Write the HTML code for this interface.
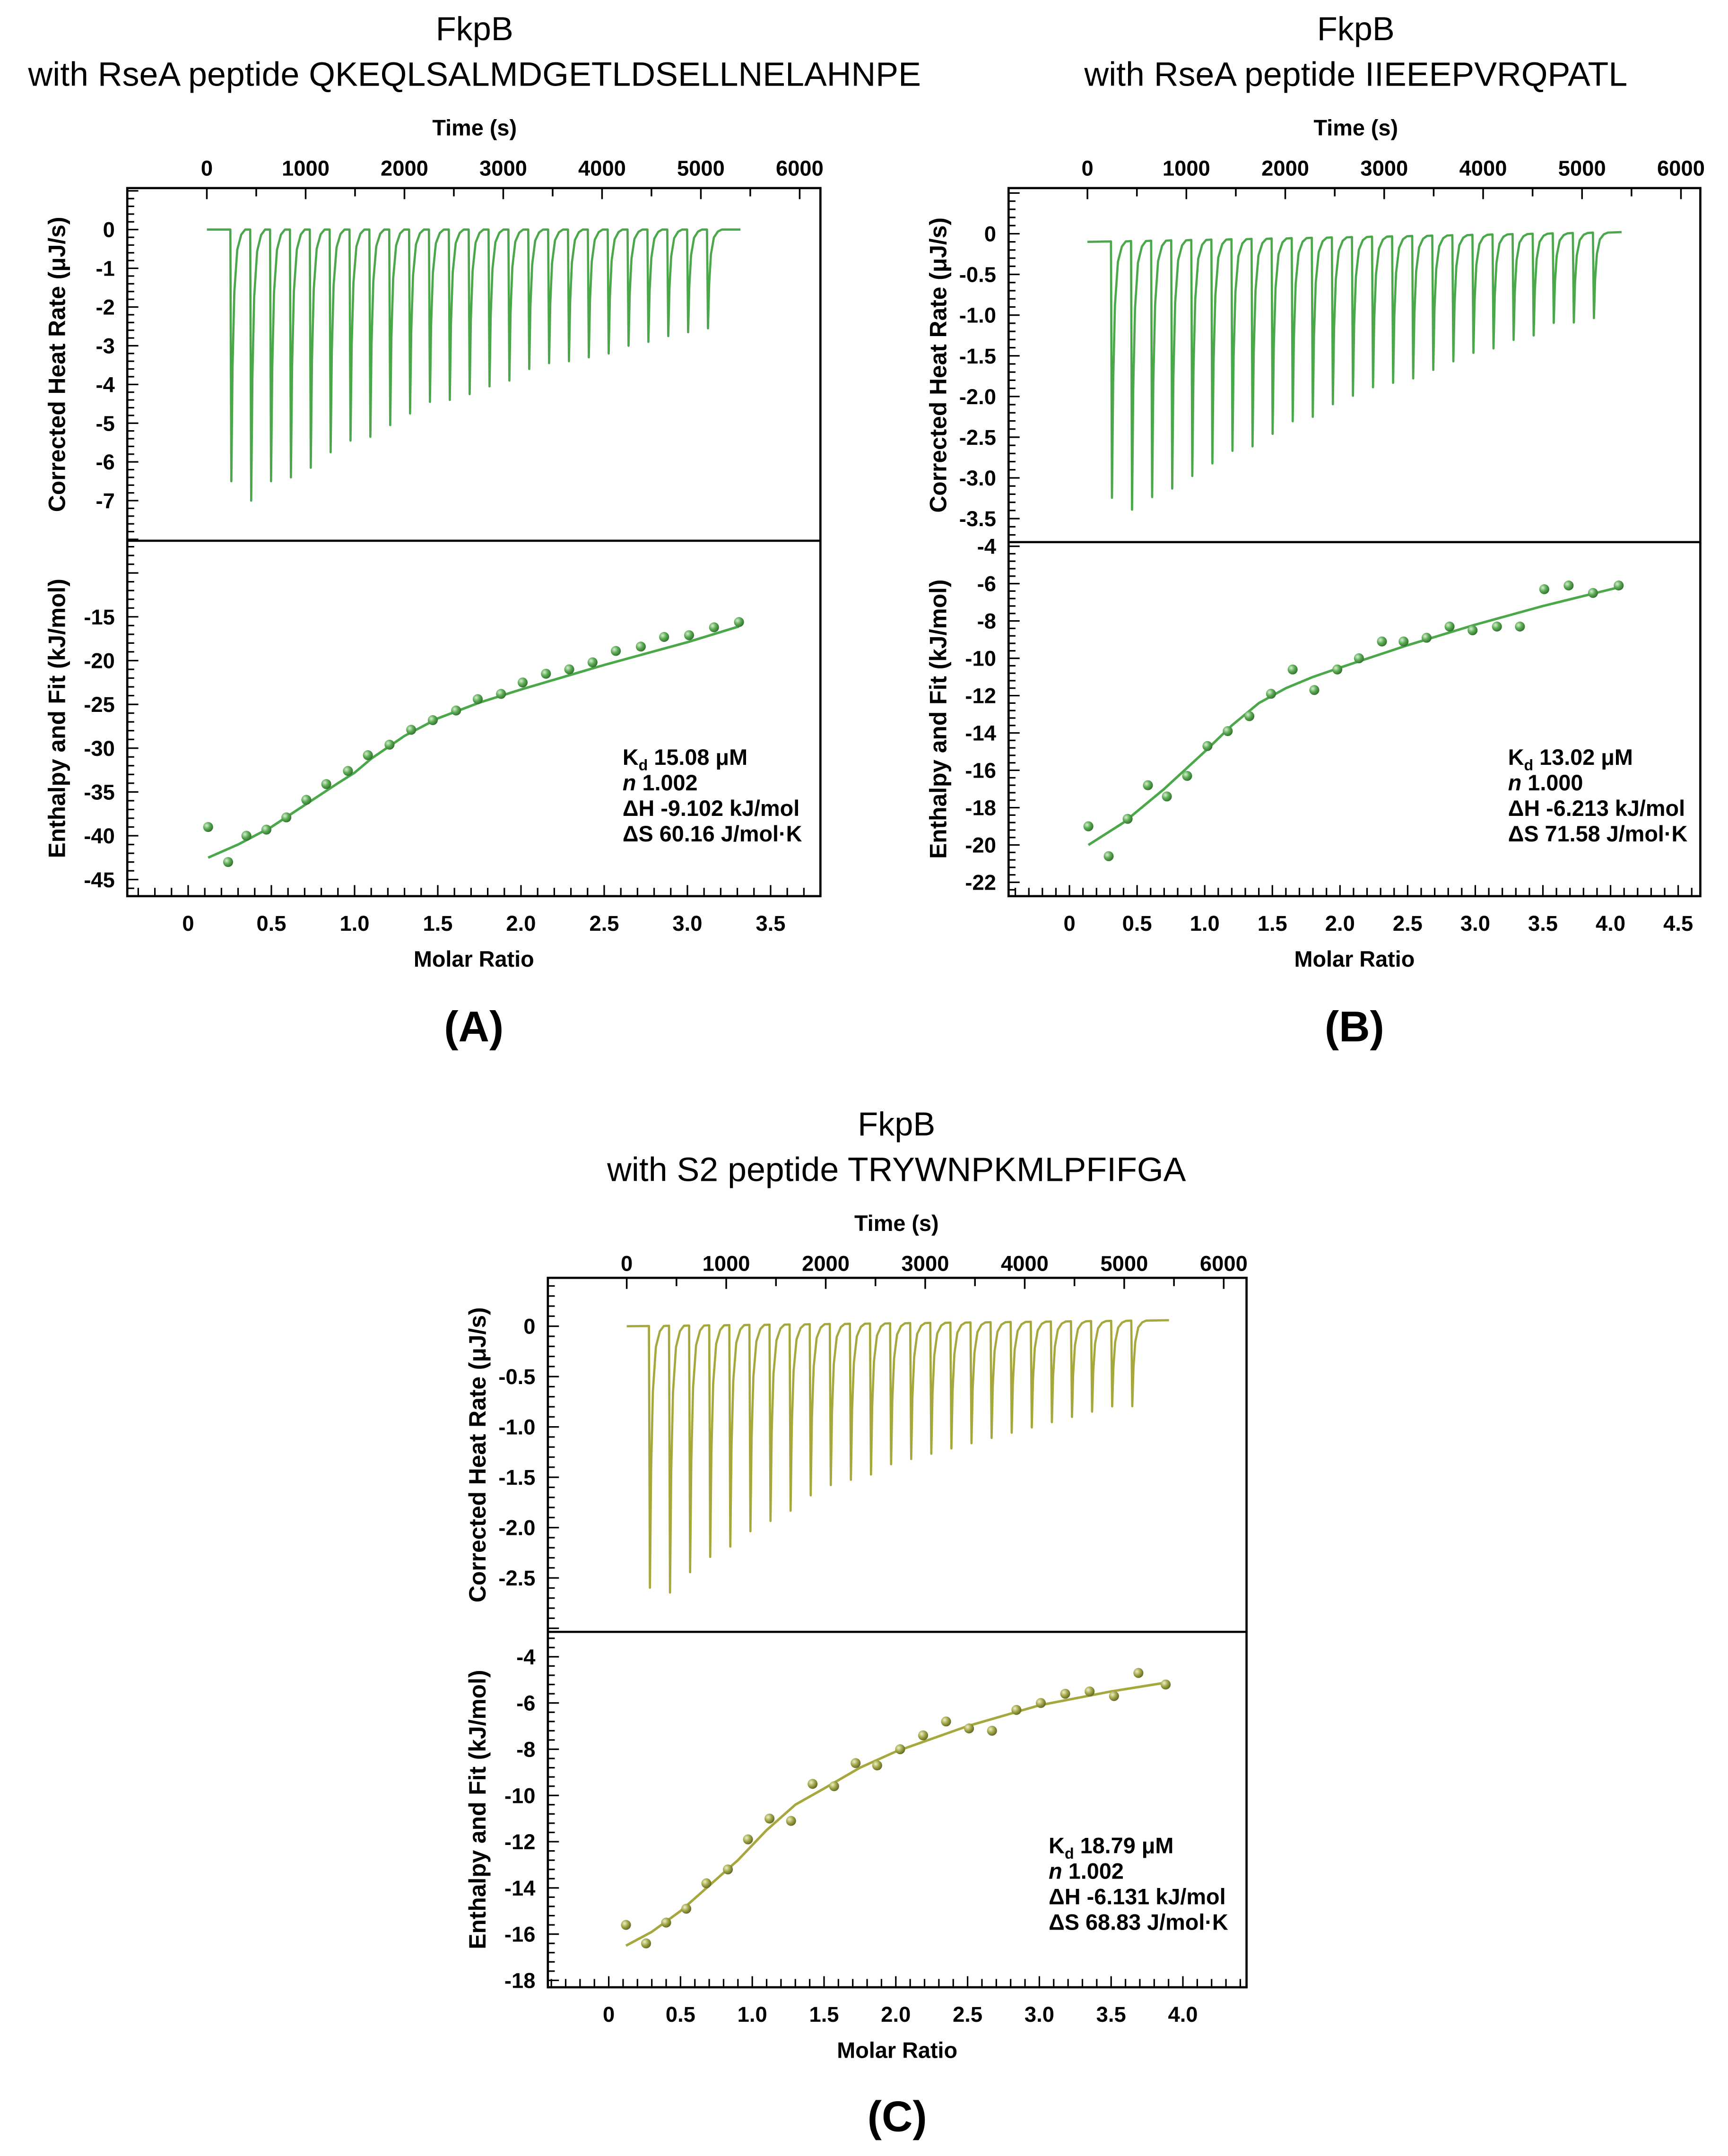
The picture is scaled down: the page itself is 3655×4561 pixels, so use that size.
<!DOCTYPE html>
<html><head><meta charset="utf-8"><style>
html,body{margin:0;padding:0;background:#fff;}
svg{display:block;}
text{font-family:"Liberation Sans",Arial,sans-serif;}
</style></head><body>
<svg id="fig" xmlns="http://www.w3.org/2000/svg" width="3655" height="4561" viewBox="0 0 1249 1559" preserveAspectRatio="none">
<defs>
<radialGradient id="gG" cx="35%" cy="35%" r="70%"><stop offset="0" stop-color="#d8f0d0"/><stop offset="0.5" stop-color="#5cab55"/><stop offset="1" stop-color="#2e6e2a"/></radialGradient>
<radialGradient id="gO" cx="35%" cy="35%" r="70%"><stop offset="0" stop-color="#eef0c8"/><stop offset="0.5" stop-color="#a4a84a"/><stop offset="1" stop-color="#5e6420"/></radialGradient>
</defs>
<g id="layer"></g>
</svg>
<script>
// ---------- data ----------
const timeTicks = [0,1000,2000,3000,4000,5000,6000];
// Panel A
const injA = [-6.5,-7.0,-6.5,-6.4,-6.15,-5.75,-5.45,-5.35,-5.05,-4.75,-4.45,-4.4,-4.25,-4.05,-3.9,-3.6,-3.45,-3.4,-3.3,-3.2,-3.0,-2.9,-2.75,-2.65,-2.55];
const ptsAx = [0.12,0.24,0.35,0.47,0.59,0.71,0.83,0.96,1.08,1.21,1.34,1.47,1.61,1.74,1.88,2.01,2.15,2.29,2.43,2.57,2.72,2.86,3.01,3.16,3.31];
const ptsAy = [-39,-43,-40,-39.3,-37.9,-35.9,-34.1,-32.6,-30.8,-29.6,-27.9,-26.8,-25.7,-24.4,-23.8,-22.5,-21.5,-21,-20.2,-18.9,-18.4,-17.3,-17.1,-16.2,-15.6];
const fitAx = [0.12,0.3,0.5,0.7,0.9,1.0,1.1,1.3,1.5,1.75,2.0,2.25,2.5,2.75,3.0,3.31];
const fitAy = [-42.5,-41.0,-39.0,-36.5,-34.0,-32.8,-31.2,-28.6,-26.6,-24.8,-23.3,-21.9,-20.5,-19.2,-17.9,-16.1];
const topTicksA = [0,-1,-2,-3,-4,-5,-6,-7];
const botTicksA = [-15,-20,-25,-30,-35,-40,-45];
const molTicksA = [0,0.5,1.0,1.5,2.0,2.5,3.0,3.5];
// Panel B
const injB = [-3.15,-3.3,-3.15,-3.05,-2.9,-2.75,-2.6,-2.55,-2.4,-2.25,-2.2,-2.05,-1.95,-1.85,-1.8,-1.75,-1.65,-1.55,-1.45,-1.4,-1.3,-1.25,-1.1,-1.1,-1.05];
const ptsBx = [0.14,0.29,0.43,0.58,0.72,0.87,1.02,1.17,1.33,1.49,1.65,1.81,1.98,2.14,2.31,2.47,2.64,2.81,2.98,3.16,3.33,3.51,3.69,3.87,4.06];
const ptsBy = [-19,-20.6,-18.6,-16.8,-17.4,-16.3,-14.7,-13.9,-13.1,-11.9,-10.6,-11.7,-10.6,-10.0,-9.1,-9.1,-8.9,-8.3,-8.5,-8.3,-8.3,-6.3,-6.1,-6.5,-6.1];
const fitBx = [0.14,0.4,0.7,1.0,1.2,1.4,1.6,1.8,2.0,2.5,3.0,3.5,4.06];
const fitBy = [-20.0,-18.8,-17.0,-15.0,-13.6,-12.4,-11.6,-11.0,-10.5,-9.3,-8.2,-7.2,-6.2];
const topTicksB = [0,-0.5,-1.0,-1.5,-2.0,-2.5,-3.0,-3.5];
const botTicksB = [-4,-6,-8,-10,-12,-14,-16,-18,-20,-22];
const molTicksB = [0,0.5,1.0,1.5,2.0,2.5,3.0,3.5,4.0,4.5];
// Panel C
const injC = [-2.6,-2.65,-2.45,-2.3,-2.2,-2.05,-1.95,-1.85,-1.7,-1.6,-1.55,-1.5,-1.4,-1.35,-1.3,-1.25,-1.2,-1.15,-1.1,-1.05,-1.0,-0.95,-0.9,-0.85,-0.85];
const ptsCx = [0.12,0.26,0.40,0.54,0.68,0.83,0.97,1.12,1.27,1.42,1.57,1.72,1.87,2.03,2.19,2.35,2.51,2.67,2.84,3.01,3.18,3.35,3.52,3.69,3.88];
const ptsCy = [-15.6,-16.4,-15.5,-14.9,-13.8,-13.2,-11.9,-11.0,-11.1,-9.5,-9.6,-8.6,-8.7,-8.0,-7.4,-6.8,-7.1,-7.2,-6.3,-6.0,-5.6,-5.5,-5.7,-4.7,-5.2];
const fitCx = [0.12,0.3,0.5,0.7,0.9,1.1,1.3,1.5,1.75,2.0,2.5,3.0,3.5,3.9];
const fitCy = [-16.5,-15.9,-15.0,-13.9,-12.8,-11.5,-10.4,-9.7,-8.8,-8.1,-7.0,-6.1,-5.5,-5.1];
const topTicksC = [0,-0.5,-1.0,-1.5,-2.0,-2.5];
const botTicksC = [-4,-6,-8,-10,-12,-14,-16,-18];
const molTicksC = [0,0.5,1.0,1.5,2.0,2.5,3.0,3.5,4.0];

// ---------- drawing ----------
const NS = "http://www.w3.org/2000/svg";
const layer = document.getElementById('layer');
function mk(tag, attrs, parent){const e=document.createElementNS(NS,tag);for(const k in attrs)e.setAttribute(k,attrs[k]);(parent||layer).appendChild(e);return e;}
function lin(d0,d1,r0,r1){const f=v=>r0+(v-d0)*(r1-r0)/(d1-d0);f.inv=p=>d0+(p-r0)*(d1-d0)/(r1-r0);return f;}
function txt(s,x,y,size,anchor,weight,parent){const t=mk('text',{x:x,y:y,'font-size':size,'text-anchor':anchor||'middle','font-weight':weight||'bold',fill:'#000'},parent);t.textContent=s;return t;}
function fmtY(v,dec){return v===0?'0':(dec?v.toFixed(1):String(v));}
function fmtM(v){return v===0?'0':v.toFixed(1);}

function panel(o){
  const g=mk('g',{});
  
  
  const F=o.frame;
  const t1=txt('FkpB',o.cx,o.ty1,24,'middle','normal',g);
  
  
  const t2=txt(o.sub,o.cx,o.ty2,24.5,'middle','normal',g);
  
  
  const tl=txt('Time (s)',o.cx,o.timeLblY,16,'middle','bold',g);
  
  
  const fr=mk('rect',{x:F.x0,y:F.y0,width:F.x1-F.x0,height:F.y1-F.y0,fill:'none',stroke:'#000','stroke-width':1.6},g);
  
  
  const dv=mk('line',{x1:F.x0,x2:F.x1,y1:F.ym,y2:F.ym,stroke:'#000','stroke-width':1.6},g);
  
  
  const tx=o.tx;
  for(let v=0;v<=6000;v+=500){
    const x=tx(v); if(x<F.x0||x>F.x1)continue;
    mk('line',{x1:x,x2:x,y1:F.y0,y2:F.y0+(v%1000===0?8:6),stroke:'#000','stroke-width':1.2},g);
  }
  timeTicks.forEach(v=>{const e=txt(String(v),tx(v),o.timeTickY,15.5,'middle','bold',g);});
  const ty=o.ty;
  const step=o.topTicks[0]-o.topTicks[1], mstep=step/5;
  for(let v=ty.inv(F.y0)-((ty.inv(F.y0))%mstep); ; v-=mstep){
    const y=ty(v); if(y>F.ym)break; if(y<F.y0)continue;
    const major=Math.abs(Math.round(v/step)*step-v)<1e-6;
    mk('line',{x1:F.x0,x2:F.x0+(major?8:5),y1:y,y2:y,stroke:'#000','stroke-width':1.1},g);
  }
  o.topTicks.forEach(v=>{const e=txt(fmtY(v,o.topDec),F.x0-9,ty(v)+5.5,15.5,'end','bold',g);});
  const yt1=txt('Corrected Heat Rate (\u03bcJ/s)',0,0,17,'middle','bold',g);
  yt1.setAttribute('transform','translate('+(F.x0-45)+','+((F.y0+F.ym)/2)+') rotate(-90)');
  
  
  let d='M'+tx(0)+','+ty(o.base0);
  let t=o.t1;
  o.inj.forEach((dep,i)=>{
    const b=o.base0+(o.base1-o.base0)*(t/o.tEnd);
    d+=' L'+tx(t)+','+ty(b);
    d+=' L'+tx(t+10)+','+ty(b+dep);
    d+=' L'+tx(t+22)+','+ty(b+dep*0.55);
    d+=' L'+tx(t+40)+','+ty(b+dep*0.25);
    d+=' L'+tx(t+70)+','+ty(b+dep*0.08);
    d+=' L'+tx(t+110)+','+ty(b+dep*0.02);
    d+=' L'+tx(t+150)+','+ty(b);
    t+=o.dt;
  });
  d+=' L'+tx(o.tEnd)+','+ty(o.base1);
  const th=mk('path',{d:d,fill:'none',stroke:o.color,'stroke-width':1.6,'stroke-linejoin':'round'},g);
  
  
  const by=o.by;
  const bstep=o.botTicks[0]-o.botTicks[1], bm=bstep/5;
  for(let v=Math.floor(by.inv(F.ym)/bm)*bm; ; v-=bm){
    const y=by(v); if(y>F.y1)break; if(y<F.ym)continue;
    const major=Math.abs(Math.round(v/bstep)*bstep-v)<1e-6;
    mk('line',{x1:F.x0,x2:F.x0+(major?8:5),y1:y,y2:y,stroke:'#000','stroke-width':1.1},g);
  }
  o.botTicks.forEach(v=>{const e=txt(fmtY(v,false),F.x0-9,by(v)+5.5,15.5,'end','bold',g);});
  const yt2=txt('Enthalpy and Fit (kJ/mol)',0,0,17,'middle','bold',g);
  yt2.setAttribute('transform','translate('+(F.x0-45)+','+((F.ym+F.y1)/2)+') rotate(-90)');
  
  
  const mx=o.mx;
  for(let v=Math.ceil(mx.inv(F.x0)*10)/10; ; v+=0.1){
    const x=mx(v); if(x>F.x1)break;
    const major=Math.abs(Math.round(v*2)/2-v)<1e-6;
    mk('line',{x1:x,x2:x,y1:F.y1,y2:F.y1-(major?8:6),stroke:'#000','stroke-width':1.1},g);
  }
  o.molTicks.forEach(v=>{const e=txt(fmtM(v),mx(v),F.y1+25,15.5,'middle','bold',g);});
  const ml=txt('Molar Ratio',(F.x0+F.x1)/2,F.y1+51,16,'middle','bold',g);
  
  
  let fd='';
  o.fitX.forEach((v,i)=>{fd+=(i?' L':'M')+mx(v)+','+by(o.fitY[i]);});
  const fl=mk('path',{d:fd,fill:'none',stroke:o.color,'stroke-width':1.8,'stroke-linejoin':'round'},g);
  
  
  o.ptsX.forEach((v,i)=>{
    const c=mk('circle',{cx:mx(v),cy:by(o.ptsY[i]),r:3.6,fill:o.grad,stroke:'none'},g);
    
    
  });
  const a=o.ann;
  const at=mk('text',{x:a.x,y:a.y,'font-size':16,'font-weight':'bold',fill:'#000'},g);
  
  
  at.innerHTML='K<tspan dy="4" font-size="11">d</tspan><tspan dy="-4"> '+o.kd+' \u03bcM</tspan>';
  const n=mk('text',{x:a.x,y:a.y+18.5,'font-size':16,'font-weight':'bold',fill:'#000'},g);
  n.innerHTML='<tspan font-style="italic">n</tspan> '+o.n;
  txt('\u0394H '+o.dH+' kJ/mol',a.x,a.y+37,16,'start','bold',g);
  txt('\u0394S '+o.dS+' J/mol\u00b7K',a.x,a.y+55.5,16,'start','bold',g);
  const pl=txt(o.letter,(F.x0+F.x1)/2,o.letterY,31,'middle','bold',g);
  
  
}

panel({name:'panel-a',cx:343,ty1:29,ty2:62,sub:'with RseA peptide QKEQLSALMDGETLDSELLNELAHNPE',timeLblY:98,timeTickY:127,
  frame:{x0:92,x1:593,y0:136,ym:391,y1:648},topDec:false,
  tx:lin(0,6000,149.5,578),ty:lin(0,-7,166,362),by:lin(-15,-45,446,636),mx:lin(0,3.5,136,557),
  topTicks:topTicksA,botTicks:botTicksA,molTicks:molTicksA,
  inj:injA,t1:238,dt:201,tEnd:5400,base0:0,base1:0,color:'#4aa84a',grad:'url(#gG)',
  fitX:fitAx,fitY:fitAy,ptsX:ptsAx,ptsY:ptsAy,
  ann:{x:450,y:553},kd:'15.08',n:'1.002',dH:'-9.102',dS:'60.16',letter:'(A)',letterY:753});

panel({name:'panel-b',cx:980,ty1:29,ty2:62,sub:'with RseA peptide IIEEEPVRQPATL',timeLblY:98,timeTickY:127,
  frame:{x0:729,x1:1229,y0:136,ym:392,y1:648},topDec:true,
  tx:lin(0,6000,786,1215),ty:lin(0,-3.5,169,375),by:lin(-4,-22,395,638),mx:lin(0,4.5,773,1213),
  topTicks:topTicksB,botTicks:botTicksB,molTicks:molTicksB,
  inj:injB,t1:238,dt:203,tEnd:5400,base0:-0.1,base1:0.02,color:'#4aa84a',grad:'url(#gG)',
  fitX:fitBx,fitY:fitBy,ptsX:ptsBx,ptsY:ptsBy,
  ann:{x:1090,y:553},kd:'13.02',n:'1.000',dH:'-6.213',dS:'71.58',letter:'(B)',letterY:753});

panel({name:'panel-c',cx:648,ty1:821,ty2:854,sub:'with S2 peptide TRYWNPKMLPFIFGA',timeLblY:890,timeTickY:919,
  frame:{x0:396,x1:901,y0:924,ym:1180,y1:1437},topDec:true,
  tx:lin(0,6000,453,884.5),ty:lin(0,-2.5,959,1141),by:lin(-4,-18,1198,1432),mx:lin(0,4,440,855),
  topTicks:topTicksC,botTicks:botTicksC,molTicks:molTicksC,
  inj:injC,t1:223,dt:202,tEnd:5450,base0:0,base1:0.06,color:'#a6a83e',grad:'url(#gO)',
  fitX:fitCx,fitY:fitCy,ptsX:ptsCx,ptsY:ptsCy,
  ann:{x:758,y:1340},kd:'18.79',n:'1.002',dH:'-6.131',dS:'68.83',letter:'(C)',letterY:1541});
</script>
</body></html>
